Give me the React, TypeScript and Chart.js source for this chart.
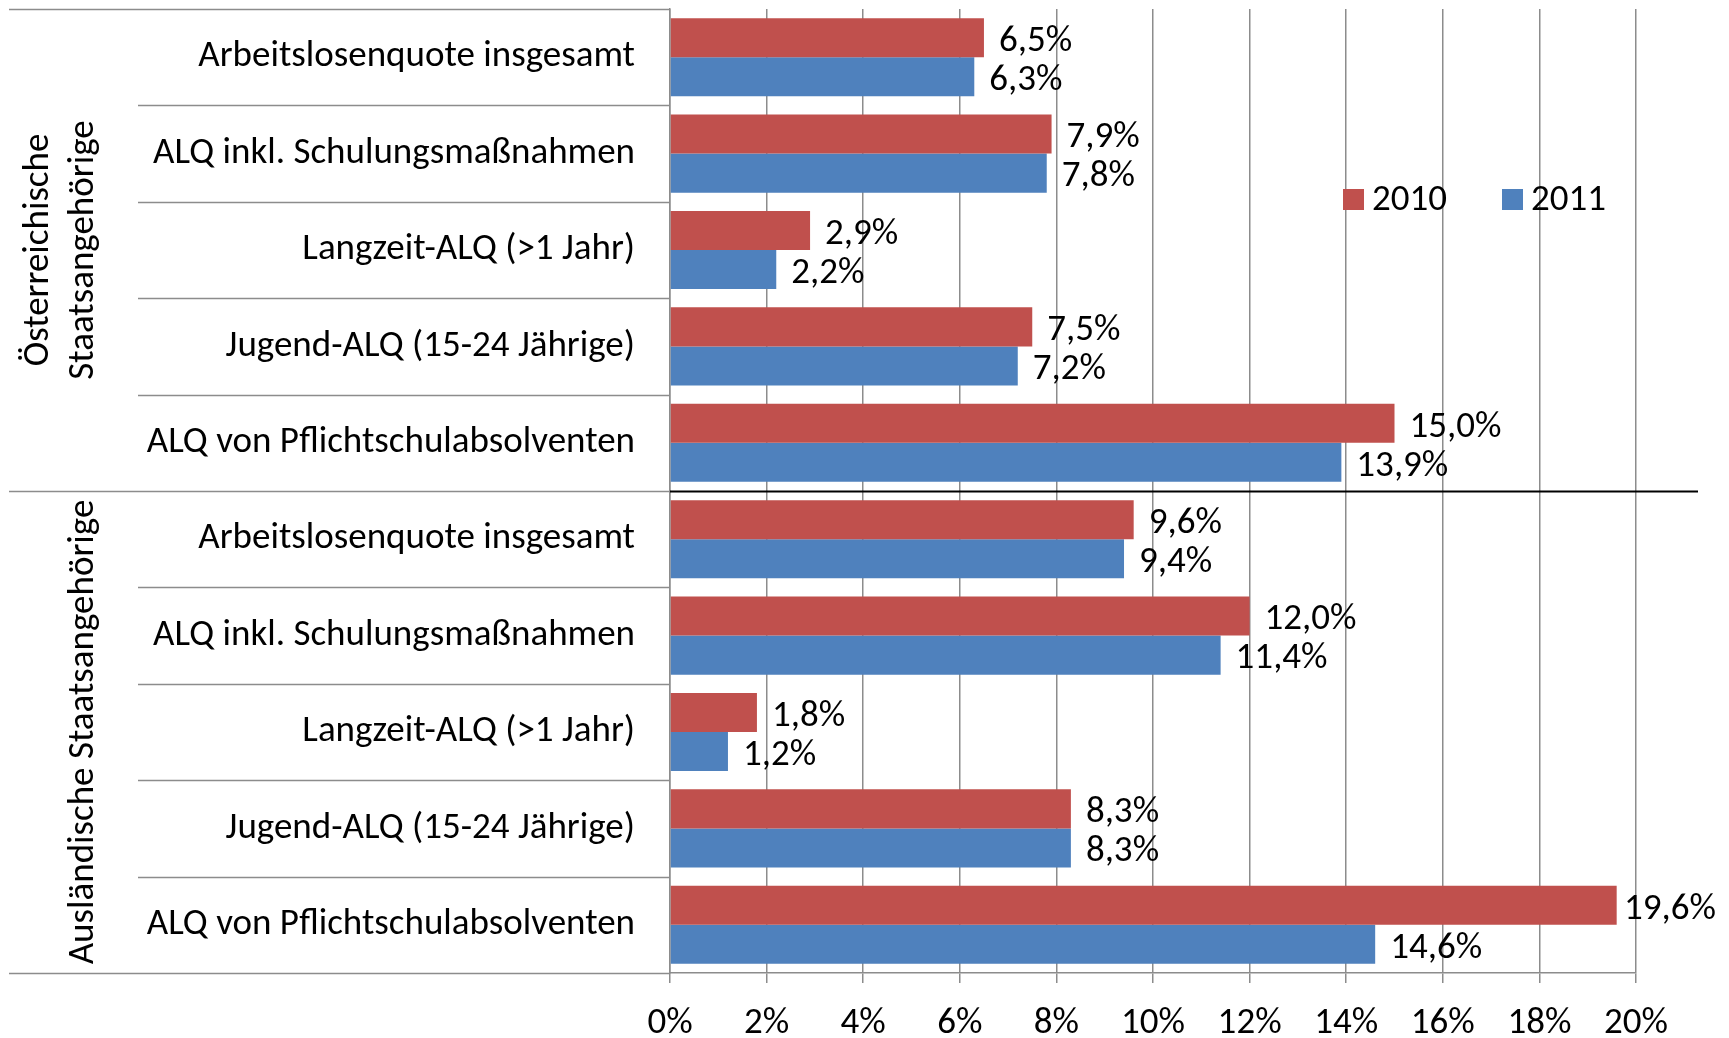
import React, { useEffect, useRef } from 'react';
import { Chart, registerables } from 'chart.js';

Chart.register(...registerables);

const categories = [
  'Arbeitslosenquote insgesamt',
  'ALQ inkl. Schulungsmaßnahmen',
  'Langzeit-ALQ (>1 Jahr)',
  'Jugend-ALQ (15-24 Jährige)',
  'ALQ von Pflichtschulabsolventen',
  'Arbeitslosenquote insgesamt',
  'ALQ inkl. Schulungsmaßnahmen',
  'Langzeit-ALQ (>1 Jahr)',
  'Jugend-ALQ (15-24 Jährige)',
  'ALQ von Pflichtschulabsolventen',
];

const groupLabels = [
  ['Österreichische', 'Staatsangehörige'],
  ['Ausländische Staatsangehörige'],
];
const groupSizes = [5, 5];

const seriesNames = ['2010', '2011'];
const values2010 = [6.5, 7.9, 2.9, 7.5, 15.0, 9.6, 12.0, 1.8, 8.3, 19.6];
const values2011 = [6.3, 7.8, 2.2, 7.2, 13.9, 9.4, 11.4, 1.2, 8.3, 14.6];

const xMin = 0;
const xMax = 20;
const xStep = 2;

const RED = '#C0504D';
const BLUE = '#4F81BD';
const GRID = '#8C8C8C';
const FONT_FAMILY = 'Carlito, Lato, sans-serif';
const FONT_SIZE = 37;

const fmt = (v: number) => v.toFixed(1).replace('.', ',') + '%';

export default function App() {
  const canvasRef = useRef<HTMLCanvasElement | null>(null);

  useEffect(() => {
    const canvas = canvasRef.current;
    if (!canvas) return;

    const line = (ctx: CanvasRenderingContext2D, x1: number, y1: number, x2: number, y2: number) => {
      ctx.beginPath();
      ctx.moveTo(x1, y1);
      ctx.lineTo(x2, y2);
      ctx.stroke();
    };

    const overlay = {
      id: 'overlay',
      afterDatasetsDraw(chart: any) {
        const { ctx } = chart;
        ctx.save();
        ctx.font = `${FONT_SIZE}px ${FONT_FAMILY}`;
        ctx.fillStyle = '#000';
        ctx.textAlign = 'left';
        ctx.textBaseline = 'middle';
        chart.data.datasets.forEach((ds: any, di: number) => {
          const meta = chart.getDatasetMeta(di);
          meta.data.forEach((bar: any, i: number) => {
            const txt = fmt(ds.data[i]);
            const w = ctx.measureText(txt).width;
            const x = Math.min(bar.x + 15, 1716 - w);
            ctx.fillText(txt, x, bar.y + 4);
          });
        });
        ctx.restore();
      },
      afterDraw(chart: any) {
        const { ctx, chartArea } = chart;
        const { left, top, bottom } = chartArea;
        const n = categories.length;
        const band = (bottom - top) / n;
        ctx.save();
        ctx.lineWidth = 1.5;
        ctx.strokeStyle = GRID;
        let idx = 0;
        const groupBounds: number[] = [0];
        groupSizes.forEach((s) => {
          idx += s;
          groupBounds.push(idx);
        });
        for (let i = 1; i < n; i++) {
          if (groupBounds.includes(i)) continue;
          const yy = Math.round(top + i * band) + 0.5;
          line(ctx, 138, yy, left, yy);
        }
        groupBounds.forEach((gi) => {
          const yy = Math.round(top + gi * band) + 0.5;
          line(ctx, 9, yy, left, yy);
        });
        ctx.strokeStyle = '#000';
        ctx.lineWidth = 2;
        for (let g = 1; g < groupBounds.length - 1; g++) {
          const yy = Math.round(top + groupBounds[g] * band) + 0.5;
          line(ctx, left, yy, 1698, yy);
        }
        ctx.fillStyle = '#000';
        ctx.font = `${FONT_SIZE}px ${FONT_FAMILY}`;
        ctx.textAlign = 'center';
        ctx.textBaseline = 'middle';
        groupLabels.forEach((lines, g) => {
          const cy = top + ((groupBounds[g] + groupBounds[g + 1]) / 2) * band;
          const xs = lines.length === 2 ? [39, 84] : [84];
          lines.forEach((t, li) => {
            ctx.save();
            ctx.translate(xs[li], cy);
            ctx.rotate(-Math.PI / 2);
            ctx.fillText(t, 0, 0);
            ctx.restore();
          });
        });
        const legendItems = [
          { x: 1343, color: RED, text: seriesNames[0] },
          { x: 1502, color: BLUE, text: seriesNames[1] },
        ];
        ctx.textAlign = 'left';
        legendItems.forEach((it) => {
          ctx.fillStyle = it.color;
          ctx.fillRect(it.x, 189, 21, 21);
          ctx.fillStyle = '#000';
          ctx.fillText(it.text, it.x + 29, 201);
        });
        ctx.restore();
      },
    };

    const tickFont = { family: FONT_FAMILY, size: FONT_SIZE };

    const chart = new Chart(canvas, {
      type: 'bar',
      data: {
        labels: categories,
        datasets: [
          {
            label: seriesNames[0],
            data: values2010,
            backgroundColor: RED,
            categoryPercentage: 0.81,
            barPercentage: 1,
          },
          {
            label: seriesNames[1],
            data: values2011,
            backgroundColor: BLUE,
            categoryPercentage: 0.81,
            barPercentage: 1,
          },
        ],
      },
      options: {
        indexAxis: 'y',
        responsive: false,
        animation: false,
        events: [],
        layout: { padding: { top: 9, right: 93, left: 0, bottom: 0 } },
        plugins: {
          legend: { display: false },
          tooltip: { enabled: false },
        },
        scales: {
          x: {
            min: xMin,
            max: xMax,
            ticks: {
              stepSize: xStep,
              callback: (v: any) => v + '%',
              font: tickFont,
              color: '#000',
              padding: 19,
              maxRotation: 0,
            },
            grid: { color: GRID, lineWidth: 1.5, tickLength: 10 },
            border: { color: GRID, width: 1.5 },
            afterFit: (s: any) => {
              s.height = 65;
              s.paddingLeft = 0;
              s.paddingRight = 0;
            },
          },
          y: {
            ticks: {
              font: tickFont,
              color: '#000',
              padding: 35,
              autoSkip: false,
            },
            grid: { display: false, drawTicks: false },
            border: { color: GRID, width: 1.5 },
            afterFit: (s: any) => {
              s.width = 670;
              s.paddingTop = 0;
              s.paddingBottom = 0;
            },
          },
        },
      },
      plugins: [overlay],
    } as any);

    return () => chart.destroy();
  }, []);

  return (
    <div style={{ position: 'absolute', left: 0, top: 0, width: 1729, height: 1038, background: '#fff' }}>
      <canvas ref={canvasRef} width={1729} height={1038} style={{ display: 'block' }} />
    </div>
  );
}
